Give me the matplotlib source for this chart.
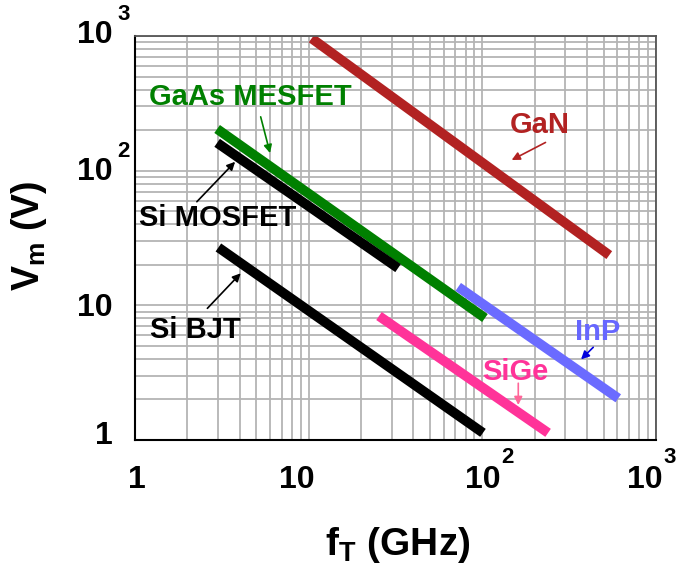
import matplotlib
matplotlib.use('Agg')
import matplotlib.pyplot as plt

plt.rcParams['font.family'] = ['Liberation Sans', 'DejaVu Sans']
plt.rcParams['font.weight'] = 'bold'
plt.rcParams['mathtext.fontset'] = 'custom'
plt.rcParams['mathtext.rm'] = 'Liberation Sans:bold'
plt.rcParams['mathtext.bf'] = 'Liberation Sans:bold'
plt.rcParams['mathtext.it'] = 'Liberation Sans:bold'

# line segments: (fT start, fT end), (Vm start, Vm end)
gan_ft = [10.4, 538]
gan_vm = [960, 23.6]
gaas_ft = [2.97, 103.5]
gaas_vm = [204, 8.05]
mos_ft = [2.97, 32.7]
mos_vm = [161, 18.9]
bjt_ft = [3.02, 100.8]
bjt_vm = [26.9, 1.13]
sige_ft = [25.4, 239]
sige_vm = [8.33, 1.13]
inp_ft = [72.6, 606]
inp_vm = [13.7, 2.04]

# labels: text, text pos, arrow tail, arrow head
lab_text = ['GaAs MESFET', 'Si MOSFET', 'Si BJT', 'GaN', 'InP', 'SiGe']
lab_pos = [(1.2, 352), (1.05, 44.5), (1.22, 6.56), (215, 218), (463, 6.37), (154, 3.21)]
arr_from = [(5.29, 251), (2.27, 58.8), (2.61, 9.5), (231, 162), (435, 4.88), (161, 2.64)]
arr_to = [(5.99, 135), (3.77, 116.4), (4.06, 17.3), (147.5, 120), (370, 3.97), (161, 1.82)]
lab_color = ['#008000', 'black', 'black', '#B22222', '#6666FF', '#FF3399']
arr_color = ['#008000', 'black', 'black', '#B22222', '#0000DD', '#FF6699']

ticks = [1, 10, 100, 1000]
tick_base = ['1', '10', '10', '10']
tick_exp = ['', '', '2', '3']
# hand placed offsets (pixels) of the tick labels, like in the slide
xlbl_dx = [2, -12, 0, -11]
ylbl_dy = [8, 1, 2, 4]

fig = plt.figure(figsize=(6.83, 5.66), dpi=100)
ax = fig.add_axes([0.1977, 0.2226, 0.7628, 0.7138])
ax.set_xscale('log')
ax.set_yscale('log')
ax.set_xlim(1, 1000)
ax.set_ylim(1, 1000)

ax.grid(True, which='both', color='#b4b4b4', lw=1.3)
ax.set_axisbelow(True)
ax.tick_params(which='both', length=0, labelbottom=False, labelleft=False)
for s in ['left', 'bottom']:
    ax.spines[s].set_linewidth(1.5)
for s in ['top', 'right']:
    ax.spines[s].set_color('#555555')
    ax.spines[s].set_linewidth(1.3)

lw = 7
ax.plot(gan_ft, gan_vm, color='#B22222', lw=lw, solid_capstyle='butt')
ax.plot(gaas_ft, gaas_vm, color='#008000', lw=lw, solid_capstyle='butt')
ax.plot(mos_ft, mos_vm, color='black', lw=lw, solid_capstyle='butt')
ax.plot(bjt_ft, bjt_vm, color='black', lw=lw, solid_capstyle='butt')
ax.plot(sige_ft, sige_vm, color='#FF3399', lw=lw, solid_capstyle='butt')
ax.plot(inp_ft, inp_vm, color='#6B6BFF', lw=lw, solid_capstyle='butt')

for i in range(len(lab_text)):
    ha = 'left' if i < 3 else 'center'
    ax.text(lab_pos[i][0], lab_pos[i][1], lab_text[i], color=lab_color[i],
            fontsize=21, fontweight='bold', ha=ha, va='center')
    ax.annotate('', xy=arr_to[i], xytext=arr_from[i],
                arrowprops=dict(arrowstyle='-|>', color=arr_color[i], lw=1.2,
                                mutation_scale=12, shrinkA=0, shrinkB=0))

fs_base = 23
fs_exp = 16
half_cap = 11.5   # half cap height of the base digits, pixels
w10 = 35.5        # width of "10", pixels

for t, b, e, dx in zip(ticks, tick_base, tick_exp, xlbl_dx):
    cy = -36.5
    ax.annotate(b, xy=(t, 0), xycoords=('data', 'axes fraction'),
                xytext=(dx, cy - half_cap), textcoords='offset pixels',
                ha='center', va='baseline', fontsize=fs_base, fontweight='bold')
    if e:
        ax.annotate(e, xy=(t, 0), xycoords=('data', 'axes fraction'),
                    xytext=(dx + w10 / 2 + 1, cy + half_cap + 2), textcoords='offset pixels',
                    ha='left', va='baseline', fontsize=fs_exp, fontweight='bold')

for t, b, e, dy in zip(ticks, tick_base, tick_exp, ylbl_dy):
    ax.annotate(b, xy=(0, t), xycoords=('axes fraction', 'data'),
                xytext=(-22, dy - half_cap), textcoords='offset pixels',
                ha='right', va='baseline', fontsize=fs_base, fontweight='bold')
    if e:
        ax.annotate(e, xy=(0, t), xycoords=('axes fraction', 'data'),
                    xytext=(-18, dy + half_cap), textcoords='offset pixels',
                    ha='left', va='baseline', fontsize=fs_exp, fontweight='bold')

ax.text(0.505, -0.26, r'$\mathbf{f_T}$ (GHz)', transform=ax.transAxes,
        fontsize=28, fontweight='bold', ha='center', va='center')
ax.text(-0.203, 0.505, r'$\mathbf{V_m}$ (V)', transform=ax.transAxes, rotation=90,
        fontsize=27, fontweight='bold', ha='center', va='center')

fig.savefig('out.png', dpi=100)
